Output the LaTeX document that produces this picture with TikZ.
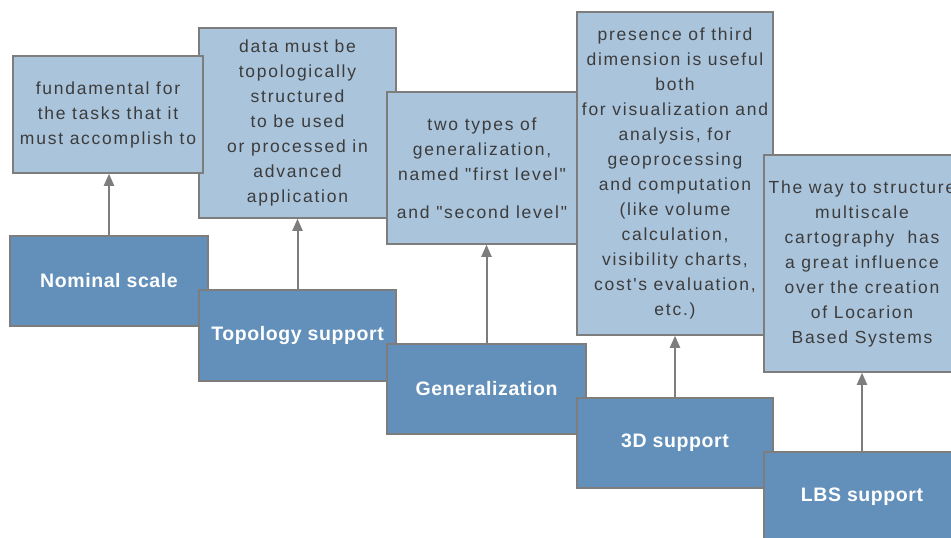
\documentclass[tikz,border=0pt]{standalone}
\usepackage{fontspec}
\setmainfont{Liberation Sans}
\newfontfamily\boxfont[LetterSpace=10]{Liberation Sans}
\newfontfamily\headfont[LetterSpace=3]{Liberation Sans}
\usetikzlibrary{arrows.meta}
\definecolor{lightfill}{RGB}{170,196,220}
\definecolor{darkfill}{RGB}{98,144,186}
\definecolor{edgegray}{RGB}{125,125,125}
\definecolor{txtgray}{RGB}{60,60,60}
\begin{document}
\begin{tikzpicture}[x=1pt,y=-1pt,
  lightbox/.style={draw=edgegray, line width=1.5pt, fill=lightfill, inner sep=0pt,
    align=center, text=txtgray, font=\boxfont\fontsize{17.5}{25}\selectfont},
  darkbox/.style={draw=edgegray, line width=1.5pt, fill=darkfill, inner sep=0pt,
    text=white, font=\headfont\fontsize{19.5}{24}\selectfont\bfseries},
  link/.style={draw=edgegray, line width=2pt, -{Triangle[length=12pt,width=10pt]}}]
\useasboundingbox (0,0) rectangle (951,538);
\clip (0,0) rectangle (951,538);
\fill[white] (0,0) rectangle (951,538);

% light (description) boxes
\node[lightbox, minimum width=197, minimum height=190] (l2) at (297.5,123)
  {data must be\\topologically\\structured\\to be used\\or processed in\\advanced\\application};
\node[lightbox, minimum width=190, minimum height=117] (l1) at (108,114.5)
  {fundamental for\\the tasks that it\\must accomplish to};
\node[lightbox, minimum width=190, minimum height=152] (l3) at (482,168)
  {two types of\\generalization,\\named "first level"\\[13pt]and "second level"};
\node[lightbox, minimum width=196, minimum height=323] (l4) at (675,173.5)
  {presence of third\\dimension is useful\\both\\for visualization and\\analysis, for\\geoprocessing\\and computation\\(like volume\\calculation,\\visibility charts,\\cost's evaluation,\\etc.)};
\node[lightbox, minimum width=196, minimum height=217] (l5) at (862,263.5)
  {The way to structure\\multiscale\\cartography\ \ has\\a great influence\\over the creation\\of Locarion\\Based Systems};

% dark (topic) boxes
\node[darkbox, minimum width=198, minimum height=90] (d1) at (109,281) {Nominal scale};
\node[darkbox, minimum width=197, minimum height=91] (d2) at (297.5,335.5) {Topology support};
\node[darkbox, minimum width=199, minimum height=90] (d3) at (486.5,389) {Generalization};
\node[darkbox, minimum width=196, minimum height=90] (d4) at (675,443) {3D support};
\node[darkbox, minimum width=196, minimum height=90] (d5) at (862,497) {LBS support};

% connectors
\draw[link] (d1.north) -- (d1.north |- l1.south);
\draw[link] (d2.north) -- (d2.north |- l2.south);
\draw[link] (d3.north) -- (d3.north |- l3.south);
\draw[link] (d4.north) -- (d4.north |- l4.south);
\draw[link] (d5.north) -- (d5.north |- l5.south);
\end{tikzpicture}
\end{document}
